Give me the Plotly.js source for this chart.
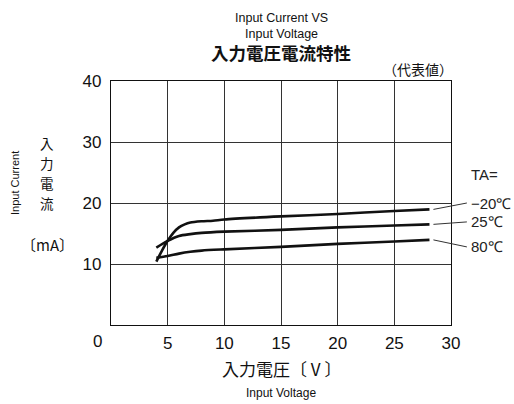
<!DOCTYPE html>
<html>
<head>
<meta charset="utf-8">
<script src="https://cdn.plot.ly/plotly-3.0.1.min.js"></script>
<style>html,body{margin:0;padding:0;background:#fff}#chart{width:514px;height:404px}</style>
</head>
<body>
<div id="chart"></div>
<script>
var xM20 = [4, 4.5, 5, 5.5, 6, 6.5, 7, 8, 9, 10, 15, 20, 25, 28.1];
var yM20 = [10.4, 12.2, 13.8, 15.1, 16.0, 16.5, 16.8, 17.0, 17.1, 17.3, 17.8, 18.2, 18.7, 18.95];
var x25 = [4, 5, 6, 7, 8, 10, 15, 20, 25, 28.1];
var y25 = [12.7, 13.8, 14.6, 14.9, 15.1, 15.3, 15.6, 16.0, 16.3, 16.5];
var x80 = [4, 5, 6, 7, 8, 10, 15, 20, 25, 28.1];
var y80 = [11.0, 11.3, 11.7, 12.0, 12.2, 12.4, 12.8, 13.3, 13.7, 13.95];
var seriesLabels = ['−20℃', '25℃', '80℃'];
var xTicks = [5, 10, 15, 20, 25, 30];
var yTicks = [10, 20, 30, 40];
var xRange = [0, 30], yRange = [0, 40];

var FONT = 'Liberation Sans, Arial, sans-serif';
var JFONT = 'Noto Sans CJK JP, sans-serif';

function tr(x, y) {
  return {x: x, y: y, type: 'scatter', mode: 'lines',
    line: {color: '#111', width: 2.6, shape: 'spline', smoothing: 0.8},
    hoverinfo: 'skip', showlegend: false};
}
var data = [tr(xM20, yM20), tr(x25, y25), tr(x80, y80)];

function px(x) { return (x - xRange[0]) / (xRange[1] - xRange[0]); }
function py(y) { return (y - yRange[0]) / (yRange[1] - yRange[0]); }

var ends = [[xM20, yM20], [x25, y25], [x80, y80]];
var labelY = [20.0, 16.9, 12.8];
var shapes = [];
var annotations = [];
ends.forEach(function (s, i) {
  var xe = s[0][s[0].length - 1], ye = s[1][s[1].length - 1];
  shapes.push({type: 'line', xref: 'paper', yref: 'paper',
    x0: px(xe + 0.35), y0: py(ye), x1: px(xe + 3.3), y1: py(labelY[i]),
    line: {color: '#333', width: 1}});
  annotations.push({xref: 'paper', yref: 'paper', x: px(xe + 3.5), y: py(labelY[i]),
    xanchor: 'left', yanchor: 'middle', showarrow: false, text: seriesLabels[i],
    font: {family: FONT, size: 15, color: '#222'}});
});
annotations.push({xref: 'paper', yref: 'paper', x: px(31.6), y: py(24.6), xanchor: 'left', yanchor: 'middle',
  showarrow: false, text: 'TA=', font: {family: FONT, size: 15, color: '#222'}});
// x tick "0" shifted left as in the original
annotations.push({xref: 'paper', yref: 'paper', x: px(0), y: 0, xanchor: 'center', yanchor: 'top', xshift: -14, yshift: -5,
  showarrow: false, text: '0', font: {family: FONT, size: 17, color: '#111'}});
// titles
annotations.push({xref: 'paper', yref: 'paper', x: 0.5, y: 1, yanchor: 'bottom', yshift: 38, showarrow: false,
  text: 'Input Current VS<br>Input Voltage', font: {family: FONT, size: 12.5, color: '#111'}});
annotations.push({xref: 'paper', yref: 'paper', x: 0.5, y: 1, yanchor: 'bottom', yshift: 14, showarrow: false,
  text: '<b>入力電圧電流特性</b>', font: {family: JFONT, size: 17.5, color: '#111'}});
annotations.push({xref: 'paper', yref: 'paper', x: 1, y: 1, xanchor: 'right', yanchor: 'bottom', yshift: 0, xshift: 4, showarrow: false,
  text: '（代表値）', font: {family: JFONT, size: 14, color: '#111'}});
// y titles (stacked vertical characters)
var yTitleChars = ['入', '力', '電', '流'];
yTitleChars.forEach(function (c, i) {
  annotations.push({xref: 'paper', yref: 'paper', x: 0, y: 1, xanchor: 'center', yanchor: 'middle',
    xshift: -64, yshift: -(62 + i * 20), showarrow: false,
    text: c, font: {family: JFONT, size: 13.5, color: '#111'}});
});
annotations.push({xref: 'paper', yref: 'paper', x: 0, y: 1, xanchor: 'center', yanchor: 'middle', xshift: -64, yshift: -163, showarrow: false,
  text: '〔mA〕', font: {family: JFONT, size: 15, color: '#111'}});
annotations.push({xref: 'paper', yref: 'paper', x: 0, y: 1, xanchor: 'center', yanchor: 'middle', xshift: -96, yshift: -102, showarrow: false,
  textangle: -90, text: 'Input Current', font: {family: FONT, size: 11, color: '#111'}});
// x titles
annotations.push({xref: 'paper', yref: 'paper', x: 0.5, y: 0, yanchor: 'top', yshift: -29, showarrow: false,
  text: '入力電圧〔 V 〕', font: {family: JFONT, size: 17, color: '#111'}});
annotations.push({xref: 'paper', yref: 'paper', x: 0.5, y: 0, yanchor: 'top', yshift: -59, showarrow: false,
  text: 'Input Voltage', font: {family: FONT, size: 12, color: '#111'}});

var layout = {
  width: 514, height: 404,
  margin: {l: 111, r: 63, t: 81, b: 79},
  paper_bgcolor: '#fff', plot_bgcolor: '#fff',
  showlegend: false,
  xaxis: {range: xRange, tickvals: xTicks, ticktext: xTicks.map(String), ticks: '', ticklabelstandoff: 2,
    showgrid: true, gridcolor: '#333', gridwidth: 1, zeroline: false,
    showline: true, linecolor: '#111', linewidth: 1.2, mirror: true,
    tickfont: {family: FONT, size: 17, color: '#111'}, fixedrange: true},
  yaxis: {range: yRange, tickvals: yTicks, ticktext: yTicks.map(String), ticks: '', ticklabelstandoff: 5,
    showgrid: true, gridcolor: '#333', gridwidth: 1, zeroline: false,
    showline: true, linecolor: '#111', linewidth: 1.2, mirror: true,
    tickfont: {family: FONT, size: 17, color: '#111'}, fixedrange: true},
  shapes: shapes,
  annotations: annotations
};
Plotly.newPlot('chart', data, layout, {displayModeBar: false, staticPlot: true});
</script>
</body>
</html>
